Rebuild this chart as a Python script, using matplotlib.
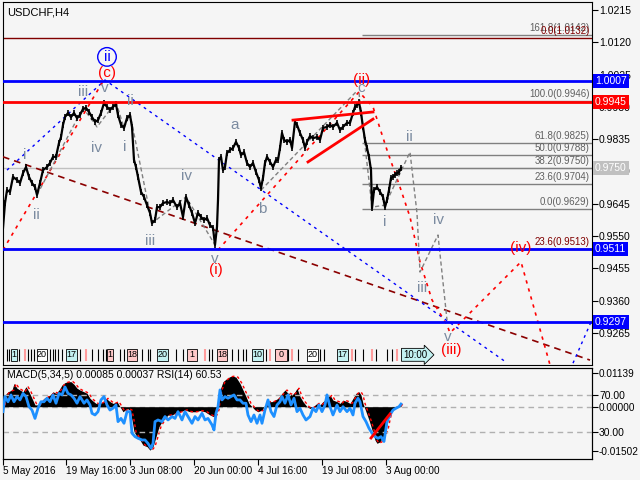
import matplotlib
matplotlib.use("Agg")
import matplotlib.pyplot as plt
import matplotlib.transforms as mtrans
from matplotlib.patches import Rectangle

# ---- price path (bar index, close) ----
price_bars = [0, 2, 4, 7, 10, 14, 17, 20, 23, 26, 29, 32, 34, 37, 40, 44, 47, 50, 53, 56,
              58, 60, 62, 65, 68, 71, 74, 77, 80, 83, 86, 89, 92, 95, 98, 101, 104, 107, 110, 113,
              115, 118, 121, 124, 127, 129, 131, 133, 135, 138, 141, 144, 147, 149, 152, 154, 157, 160, 164, 167,
              170, 174, 177, 180, 183, 186, 189, 192, 195, 198, 201, 204, 207, 210, 212, 214, 215, 216, 218, 220,
              222, 224, 227, 230, 233, 236, 238, 241, 244, 247, 250, 253, 256, 258, 260, 262, 264, 267, 270, 273,
              275, 277, 279, 281, 284, 287, 289, 292, 294, 297, 300, 302, 304, 307, 310, 314, 317, 320, 324, 327,
              330, 334, 337, 340, 344, 347, 350, 352, 354, 356, 358, 360, 362, 364, 366, 368, 369, 371, 374, 377,
              380, 382, 384, 386, 388, 390, 392, 394, 396, 398]
price_close = [0.9574, 0.9647, 0.9685, 0.9680, 0.9724, 0.9715, 0.9706, 0.9735, 0.9753, 0.9724,
               0.9706, 0.9694, 0.9671, 0.9706, 0.9744, 0.9753, 0.9765, 0.9783, 0.9783, 0.9824,
               0.9841, 0.9877, 0.9900, 0.9912, 0.9900, 0.9912, 0.9897, 0.9906, 0.9924, 0.9927,
               0.9915, 0.9900, 0.9886, 0.9891, 0.9912, 0.9941, 0.9930, 0.9921, 0.9930, 0.9938,
               0.9906, 0.9877, 0.9868, 0.9897, 0.9906, 0.9871, 0.9774, 0.9753, 0.9724, 0.9680,
               0.9665, 0.9641, 0.9618, 0.9588, 0.9597, 0.9635, 0.9635, 0.9647, 0.9650, 0.9647,
               0.9656, 0.9635, 0.9647, 0.9606, 0.9665, 0.9641, 0.9618, 0.9588, 0.9618, 0.9606,
               0.9597, 0.9603, 0.9582, 0.9574, 0.9524, 0.9577, 0.9656, 0.9774, 0.9783, 0.9744,
               0.9753, 0.9794, 0.9803, 0.9809, 0.9827, 0.9809, 0.9788, 0.9797, 0.9765, 0.9753,
               0.9765, 0.9738, 0.9715, 0.9691, 0.9721, 0.9765, 0.9783, 0.9768, 0.9753, 0.9774,
               0.9774, 0.9809, 0.9853, 0.9833, 0.9827, 0.9833, 0.9809, 0.9886, 0.9877, 0.9853,
               0.9833, 0.9809, 0.9827, 0.9844, 0.9838, 0.9841, 0.9833, 0.9868, 0.9871, 0.9877,
               0.9871, 0.9883, 0.9862, 0.9871, 0.9883, 0.9883, 0.9912, 0.9930, 0.9935, 0.9944,
               0.9912, 0.9871, 0.9833, 0.9809, 0.9783, 0.9744, 0.9632, 0.9685, 0.9694, 0.9680,
               0.9665, 0.9635, 0.9656, 0.9685, 0.9721, 0.9724, 0.9730, 0.9735, 0.9738, 0.9750]

# ---- MACD(5,34,5) main line, values in 1e-3 ----
macd_bars = [0, 2, 5, 9, 11, 14, 17, 20, 23, 26, 29, 32, 35, 38, 41, 44, 47, 50, 53, 56,
             59, 62, 65, 68, 71, 74, 77, 81, 84, 87, 90, 93, 96, 100, 103, 107, 110, 114, 117, 120,
             124, 127, 129, 131, 134, 137, 140, 144, 147, 150, 153, 156, 159, 162, 165, 169, 172, 177, 182, 187,
             192, 197, 202, 207, 211, 214, 215, 217, 220, 224, 227, 230, 233, 237, 240, 243, 246, 249, 252, 255,
             259, 262, 265, 269, 272, 275, 279, 282, 285, 289, 292, 294, 297, 300, 304, 307, 310, 314, 317, 320,
             324, 327, 330, 334, 337, 340, 344, 347, 350, 353, 356, 358, 360, 363, 366, 369, 372, 374, 377, 380,
             383, 385, 387, 390, 393, 396, 398]
macd_vals = [0.5, 3.9, 5.0, 5.6, 7.8, 6.2, 5.6, 5.0, 6.7, 5.0, 2.8, 0.6, 0.6, 1.7, 2.8, 3.4, 3.9, 5.0, 4.5, 5.6,
             7.3, 8.1, 8.4, 8.4, 7.5, 6.2, 5.6, 5.0, 4.5, 2.8, 1.9, 1.1, 0.9, 1.7, 2.8, 1.7, 1.1, 1.7, 0.0, -1.7,
             -0.6, -1.1, -4.5, -8.4, -10.1, -11.2, -12.9, -13.4, -14.6, -13.4, -10.1, -6.7, -5.0, -3.9, -2.8, -2.8, -2.2, -1.7, -1.1, -1.7,
             -1.7, -1.3, -1.7, -2.8, -3.4, -1.1, 1.7, 5.6, 8.4, 9.5, 10.1, 10.3, 9.9, 7.8, 5.6, 3.4, 1.1, 0.0, -1.1, -1.7,
             -1.1, 0.6, 1.7, 1.7, 2.2, 2.8, 4.5, 5.6, 4.5, 3.9, 5.0, 6.2, 3.4, 1.7, 0.0, -0.6, 0.0, 1.1, 0.6, 1.7,
             2.8, 3.9, 2.2, 1.7, 1.1, 2.2, 1.7, 1.1, 2.8, 4.5, 5.0, 3.9, 1.1, -1.7, -4.5, -7.8, -11.2, -12.3, -11.8, -10.1,
             -7.8, -4.5, -1.7, -0.6, 0.0, 0.3, 0.85]

# ---- RSI(14) ----
rsi_bars = [0, 2, 5, 8, 11, 14, 17, 20, 23, 26, 29, 32, 35, 38, 41, 44, 47, 50, 53, 56,
            59, 62, 65, 68, 71, 74, 77, 81, 84, 87, 89, 92, 95, 98, 101, 104, 107, 110, 113, 115,
            118, 121, 124, 127, 129, 132, 135, 139, 142, 145, 148, 150, 152, 155, 159, 162, 165, 169, 172, 175,
            179, 182, 185, 189, 192, 195, 199, 202, 205, 209, 211, 213, 215, 217, 219, 222, 225, 228, 231, 234,
            237, 240, 243, 245, 248, 251, 254, 257, 259, 262, 265, 268, 271, 274, 277, 279, 282, 285, 288, 291,
            294, 297, 300, 303, 307, 310, 313, 316, 319, 322, 324, 327, 330, 334, 337, 340, 344, 347, 350, 352,
            355, 357, 360, 363, 366, 369, 372, 375, 378, 381, 384, 387, 390, 393, 396, 398]
rsi_vals = [52.3, 68.6, 63.0, 70.4, 63.0, 68.6, 65.0, 72.0, 68.6, 57.7, 54.0, 45.0, 56.0, 63.0, 63.0, 66.8, 63.0, 70.4, 61.4, 72.0,
            70.4, 79.0, 72.0, 70.4, 66.8, 61.4, 68.6, 61.4, 65.0, 59.5, 50.5, 48.7, 52.3, 65.0, 68.6, 59.5, 54.0, 56.0, 59.5, 41.5,
            45.0, 39.7, 52.3, 52.3, 29.0, 25.3, 23.5, 21.7, 21.7, 18.0, 12.7, 18.0, 41.5, 43.3, 41.5, 47.0, 43.3, 47.0, 45.0, 52.3,
            43.3, 52.3, 47.0, 39.7, 47.0, 43.3, 50.5, 43.3, 45.0, 38.0, 32.5, 50.5, 57.7, 75.8, 65.0, 68.6, 66.8, 68.6, 70.4, 65.0,
            65.0, 61.4, 61.4, 48.7, 41.5, 48.7, 39.7, 48.7, 39.7, 54.0, 65.0, 52.3, 47.0, 59.5, 63.0, 68.6, 61.4, 70.4, 59.5, 66.8,
            52.3, 56.0, 48.7, 43.3, 47.0, 56.0, 52.3, 59.5, 52.3, 59.5, 70.4, 57.7, 48.7, 59.5, 52.3, 57.7, 52.3, 56.0, 48.7, 61.4,
            66.8, 63.0, 47.0, 41.5, 34.3, 29.0, 25.3, 23.5, 25.3, 20.0, 41.5, 48.7, 54.0, 56.0, 57.7, 60.5]

# ---- horizontal levels ----
blue_levels = [1.0007, 0.9511, 0.9297]
red_level = 0.9945
bid_price = 0.9750
fib_values = [1.0142, 0.9946, 0.9825, 0.9788, 0.9750, 0.9704, 0.9629]
fib_texts = ["161.8(1.0142)", "100.0(0.9946)", "61.8(0.9825)", "50.0(0.9788)",
             "38.2(0.9750)", "23.6(0.9704)", "0.0(0.9629)"]
fib2_values = [1.0132, 0.9513]
fib2_texts = ["0.0(1.0132)", "23.6(0.9513)"]

# ---- wave count lines (bar, price) ----
brown_trend = [(0, 0.9783), (587, 0.9185)]
blue_trend = [(4, 0.9744), (102, 1.0009), (504, 0.9177)]
blue_trend2 = [(570, 0.9176), (588, 0.9297)]
red_path1 = [(0, 0.9509), (102, 1.0015)]
red_path2 = [(215, 0.9509), (356, 0.9974), (370, 0.9930), (384, 0.9803), (397, 0.9694), (407, 0.9606),
             (417, 0.9474), (429, 0.9362), (444, 0.9288), (447, 0.9265), (518, 0.9474), (547, 0.9171)]
gray_path1 = [(34, 0.9671), (80, 0.9927), (94, 0.9871), (113, 0.9944), (121, 0.9868), (127, 0.9909),
              (149, 0.9588), (183, 0.9665), (212, 0.9524)]
gray_path2 = [(258, 0.9685), (354, 0.9977)]
gray_path3 = [(356, 0.9971), (369, 0.9635), (382, 0.9641), (407, 0.9797), (414, 0.9617),
              (417, 0.9444), (435, 0.9553), (444, 0.9303)]
wedge_upper = [(290, 0.9891), (370, 0.9915)]
wedge_lower = [(305, 0.9768), (370, 0.9894)]
rsi_trend = [(368, 23.8), (387, 49.8)]

# ---- wave labels ----
gray_labels = [("i", 22, 0.9788), ("ii", 33, 0.9612), ("iii", 80, 0.9974), ("iv", 94, 0.9809),
               ("v", 102, 0.9985), ("i", 122, 0.9812), ("ii", 127, 0.9947), ("iii", 147, 0.9535),
               ("iv", 183, 0.9727), ("v", 212, 0.9482), ("a", 232, 0.9877), ("b", 259, 0.9629),
               ("c", 358, 0.9986), ("ii", 406, 0.9841), ("i", 382, 0.9591), ("iv", 435, 0.9597),
               ("iii", 419, 0.9397), ("v", 445, 0.9253)]
red_labels = [("(i)", 213, 0.9450), ("(ii)", 359, 1.0009), ("(iii)", 448, 0.9215),
              ("(iv)", 518, 0.9515), ("(c)", 104, 1.0030)]

# ---- axes labels ----
price_ticks = [1.0215, 1.0120, 1.0025, 0.9930, 0.9835, 0.9740, 0.9645, 0.9550, 0.9455, 0.9360, 0.9265]
date_ticks = [0, 63, 127, 191, 255, 319, 383]
date_labels = ["5 May 2016", "19 May 16:00", "3 Jun 08:00", "20 Jun 00:00",
               "4 Jul 16:00", "19 Jul 08:00", "3 Aug 00:00"]

# ---- day-separator strip ----
box_start = [8, 34, 63, 104, 124, 154, 184, 214, 249, 272, 304, 334]
box_end = [14, 44, 74, 110, 134, 165, 194, 224, 260, 284, 315, 345]
box_labels = ["1", "20", "17", "1", "18", "20", "1", "18", "10", "0", "20", "17"]
box_kinds = ["c", "w", "c", "p", "p", "c", "p", "p", "c", "p", "w", "c"]
sep_bars = [4, 6, 16, 25, 28, 31, 47, 50, 52, 55, 59, 77, 89, 95, 100, 103, 117, 121, 139, 145,
            147, 173, 180, 206, 209, 229, 235, 240, 243, 263, 285, 295, 317, 321, 352, 360, 373,
            384, 389]
pink_sep_bars = [22, 83, 202, 267, 289, 349, 369, 394]

BG = "#f5f5f5"
GRAYTXT = "#7b8ba0"
box_colors = {"c": "#c4f2f2", "p": "#ffc8c8", "w": "#ffffff"}

plt.rcParams["font.family"] = ["Liberation Sans", "DejaVu Sans"]

fig = plt.figure(figsize=(6.4, 4.8), dpi=100, facecolor=BG)
ax = fig.add_axes([3 / 640, 1 - 365 / 480, 589 / 640, 363 / 480], facecolor=BG)
ax2 = fig.add_axes([3 / 640, 1 - 459 / 480, 589 / 640, 91 / 480], facecolor=BG)

xmax = 589
ax.set_xlim(0, xmax)
ax.set_ylim(0.91706, 1.02385)

# horizontal objects
ax.axhline(bid_price, color="#c0c0c0", lw=1, zorder=1)
for v in fib2_values:
    ax.axhline(v, color="#800000", lw=1, zorder=1)
ax.hlines(fib_values, 359, xmax, color="#808080", lw=1, zorder=1)
for v in blue_levels:
    ax.axhline(v, color="#0000ff", lw=2, zorder=4)
ax.axhline(red_level, color="#ff0000", lw=2, zorder=4)

trans_r = mtrans.blended_transform_factory(ax.transAxes, ax.transData)
for v, t in zip(fib_values, fib_texts):
    ax.text(0.996, v + 0.0006, t, transform=trans_r, ha="right", va="bottom",
            fontsize=7, color="#606060", zorder=5)
for v, t in zip(fib2_values, fib2_texts):
    ax.text(0.996, v + 0.0006, t, transform=trans_r, ha="right", va="bottom",
            fontsize=7, color="#800000", zorder=5)


def draw_path(a, pts, **kw):
    a.plot([p[0] for p in pts], [p[1] for p in pts], **kw)


draw_path(ax, brown_trend, color="#8b0000", lw=1.2, ls=(0, (4, 3)), zorder=3)
draw_path(ax, blue_trend, color="#0000ff", lw=1, ls=(0, (2, 3)), zorder=3)
draw_path(ax, blue_trend2, color="#0000ff", lw=1, ls=(0, (2, 3)), zorder=3)
draw_path(ax, red_path1, color="#ff0000", lw=1.2, ls=(0, (2, 3)), zorder=3)
draw_path(ax, red_path2, color="#ff0000", lw=1.2, ls=(0, (2, 3)), zorder=3)
for gp in (gray_path1, gray_path2, gray_path3):
    draw_path(ax, gp, color="#808080", lw=1, ls=(0, (3, 2)), zorder=3)

# price
ax.plot(price_bars, price_close, color="black", lw=1.6, zorder=3.5)
ax.vlines(price_bars, [p - 0.0008 for p in price_close], [p + 0.0008 for p in price_close],
          color="black", lw=1.2, zorder=3.5)

draw_path(ax, wedge_upper, color="#ff0000", lw=2, zorder=4)
draw_path(ax, wedge_lower, color="#ff0000", lw=2, zorder=4)

for t, b, p in gray_labels:
    ax.text(b, p, t, color=GRAYTXT, fontsize=11, ha="center", va="center", zorder=6)
for t, b, p in red_labels:
    ax.text(b, p, t, color="#ff0000", fontsize=11, ha="center", va="center", zorder=6)
ax.text(104, 1.0077, "ii", color="#0000ff", fontsize=11, ha="center", va="center", zorder=6,
        bbox=dict(boxstyle="circle,pad=0.15", fc="none", ec="#0000ff", lw=1))

ax.text(0.007, 0.985, "USDCHF,H4", transform=ax.transAxes, fontsize=8, ha="left", va="top")

# right price axis
ax.yaxis.tick_right()
ax.set_yticks(price_ticks)
ax.set_yticklabels([f"{v:.4f}" for v in price_ticks])
ax.tick_params(axis="y", direction="out", length=4, labelsize=7.5, pad=1)
ax.set_xticks([])
box_price = [(1.0007, "#0000ff"), (0.9945, "#ff0000"), (0.9750, "#c0c0c0"),
             (0.9511, "#0000ff"), (0.9297, "#0000ff")]
for v, c in box_price:
    ax.text(1.005, v, f"{v:.4f}", transform=trans_r, ha="left", va="center", fontsize=7.5,
            color="white", zorder=10, clip_on=False,
            bbox=dict(boxstyle="square,pad=0.2", fc=c, ec="none"))

# day separator strip at bottom of price panel
trans_b = mtrans.blended_transform_factory(ax.transData, ax.transAxes)
ax.vlines(sep_bars, 0.012, 0.045, transform=trans_b, color="black", lw=0.8, zorder=5)
ax.vlines(pink_sep_bars, 0.012, 0.045, transform=trans_b, color="#ff9c9c", lw=1.5, zorder=5)
for s, e, lab, k in zip(box_start, box_end, box_labels, box_kinds):
    ax.add_patch(Rectangle((s, 0.012), e - s, 0.033, transform=trans_b, fc=box_colors[k],
                           ec="black", lw=0.6, zorder=5))
    ax.text((s + e) / 2, 0.028, lab, transform=trans_b, fontsize=6.5, ha="center", va="center", zorder=6)
ax.text(412, 0.028, "10:00", transform=trans_b, fontsize=7, ha="center", va="center", zorder=6,
        bbox=dict(boxstyle="rarrow,pad=0.15", fc=box_colors["c"], ec="black", lw=0.6))
ax.axhline(0.0055, color="black", lw=1, zorder=5)

# indicator panel: MACD histogram + signal, RSI on twin scale
ax2.set_xlim(0, xmax)
macd = [v / 1000 for v in macd_vals]
ax2.set_ylim(-0.01757, 0.0130)
ax2.axhline(0, color="#b0b0b0", lw=1, ls=(0, (4, 3)), zorder=1)
ax2.fill_between(macd_bars, 0, macd, color="black", lw=0, zorder=2)
ax2.plot([b + 2 for b in macd_bars], macd, color="#ff0000", lw=1, ls=(0, (2, 2)), zorder=3)
ax2.set_xticks(date_ticks)
ax2.set_xticklabels(date_labels)
ax2.tick_params(axis="x", direction="out", length=4, labelsize=7.2, pad=1)
for t in ax2.get_xticklabels():
    t.set_ha("left")

ax3 = ax2.twinx()
ax3.set_ylim(1.1, 99.5)
ax3.axhline(70, color="#b0b0b0", lw=1, ls=(0, (4, 3)), zorder=1)
ax3.axhline(30, color="#b0b0b0", lw=1, ls=(0, (4, 3)), zorder=1)
ax3.plot(rsi_bars, rsi_vals, color="#1e90ff", lw=2, zorder=4)
draw_path(ax3, rsi_trend, color="#ff0000", lw=2, zorder=5)
ax3.set_yticks([70, 30])
ax3.set_yticklabels(["70.00", "30.00"])
ax3.tick_params(axis="y", direction="out", length=4, labelsize=7.5, pad=1)

# twinx moved ax2's ticks to the left, put them back on the right
ax2.yaxis.tick_right()
ax2.set_yticks([0.01139, 0.0, -0.01502])
ax2.set_yticklabels(["0.01139", "0.00000", "-0.01502"])
ax2.tick_params(axis="y", direction="out", length=4, labelsize=7.2, pad=1)

ax2.text(0.007, 0.92, "MACD(5,34,5) 0.00085 0.00037 RSI(14) 60.53", transform=ax2.transAxes,
         fontsize=7.5, ha="left", va="center")

fig.savefig("out.png", dpi=100, facecolor=BG)
